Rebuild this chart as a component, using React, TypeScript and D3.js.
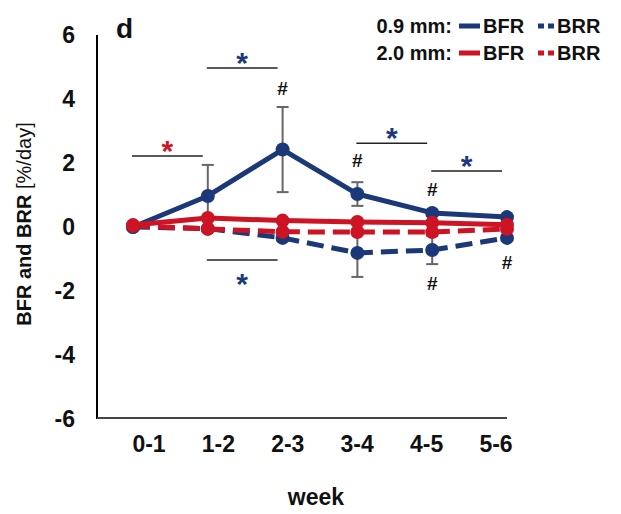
import React from "react";
import * as d3 from "d3";

const weeks = ["0-1", "1-2", "2-3", "3-4", "4-5", "5-6"];
const bfr09 = [0, 0.97, 2.42, 1.03, 0.44, 0.31];
const bfr09Err = [0, 0.97, 1.33, 0.37, 0.1, 0.05];
const brr09 = [0, -0.05, -0.34, -0.81, -0.72, -0.34];
const brr09Err = [0, 0.05, 0.1, 0.75, 0.44, 0.05];
const bfr20 = [0.06, 0.28, 0.2, 0.16, 0.13, 0.07];
const brr20 = [0.04, -0.06, -0.15, -0.16, -0.16, -0.06];
const yTicks = [-6, -4, -2, 0, 2, 4, 6];

// significance bars: between two weeks, at a value height
const sigBars = [
  { a: "0-1", b: "1-2", v: 2.22, color: "red", below: false },
  { a: "1-2", b: "2-3", v: 4.97, color: "blue", below: false },
  { a: "3-4", b: "4-5", v: 2.62, color: "blue", below: false },
  { a: "4-5", b: "5-6", v: 1.75, color: "blue", below: false },
  { a: "1-2", b: "2-3", v: -1.03, color: "blue", below: true },
];
const hashMarks = [
  { w: "2-3", v: 4.34 },
  { w: "3-4", v: 2.09 },
  { w: "4-5", v: 1.19 },
  { w: "4-5", v: -1.75 },
  { w: "5-6", v: -1.09 },
];

const BLUE = "#1b3879";
const RED = "#cc1424";
const FONT = "'Liberation Sans', Arial, sans-serif";

export default function App() {
  const x = d3.scalePoint<string>().domain(weeks).range([133, 507]);
  const xLab = d3.scalePoint<string>().domain(weeks).range([149, 496]);
  const y = d3.scaleLinear().domain([-6, 6]).range([419, 35]);
  const line = d3
    .line<number>()
    .x((_, i) => x(weeks[i]) as number)
    .y((d) => y(d));

  const series = [
    { vals: brr09, color: BLUE, dash: "17,8" },
    { vals: bfr09, color: BLUE, dash: null },
    { vals: brr20, color: RED, dash: "17,8" },
    { vals: bfr20, color: RED, dash: null },
  ];
  const errs = [
    { vals: bfr09, err: bfr09Err },
    { vals: brr09, err: brr09Err },
  ];

  const colorOf = (c: string) => (c === "red" ? RED : BLUE);

  return (
    <svg
      width={621}
      height={514}
      style={{ display: "block", position: "absolute", left: 0, top: 0, fontFamily: FONT }}
    >
      <rect width={621} height={514} fill="#fff" />
      {/* axes */}
      <line x1={97} x2={97} y1={y(6)} y2={y(-6)} stroke="#000" strokeWidth={2} />
      <line x1={97} x2={x("5-6")} y1={y(-6) - 1} y2={y(-6) - 1} stroke="#444" strokeWidth={2} />
      {yTicks.map((t) => (
        <text key={t} x={75} y={y(t)} dy="0.36em" textAnchor="end" fontSize={23} fontWeight="bold" fill="#111">
          {t}
        </text>
      ))}
      {weeks.map((w) => (
        <text key={w} x={xLab(w)} y={452} textAnchor="middle" fontSize={23} fontWeight="bold" fill="#111">
          {w}
        </text>
      ))}
      <text x={316} y={505} textAnchor="middle" fontSize={23} fontWeight="bold" fill="#111">
        week
      </text>
      <text transform="translate(31,224) rotate(-90)" textAnchor="middle" fontSize={20} fill="#111">
        <tspan fontWeight="bold">BFR and BRR </tspan>
        <tspan>[%/day]</tspan>
      </text>
      <text x={116} y={38} fontSize={28} fontWeight="bold" fill="#111">
        d
      </text>

      {/* error bars */}
      {errs.map((s, si) =>
        s.vals.map((v, i) => {
          const e = s.err[i];
          if (!e) return null;
          const cx = x(weeks[i]) as number;
          return (
            <g key={`e${si}-${i}`} stroke="#666" strokeWidth={2}>
              <line x1={cx} x2={cx} y1={y(v + e)} y2={y(v - e)} />
              <line x1={cx - 6} x2={cx + 6} y1={y(v + e)} y2={y(v + e)} />
              <line x1={cx - 6} x2={cx + 6} y1={y(v - e)} y2={y(v - e)} />
            </g>
          );
        })
      )}

      {/* series */}
      {series.map((s, si) => (
        <g key={`s${si}`}>
          <path
            d={line(s.vals) as string}
            fill="none"
            stroke={s.color}
            strokeWidth={5}
            strokeDasharray={s.dash ?? undefined}
            strokeLinejoin="round"
          />
          {s.vals.map((v, i) => (
            <circle key={i} cx={x(weeks[i])} cy={y(v)} r={7} fill={s.color} />
          ))}
        </g>
      ))}

      {/* significance */}
      {sigBars.map((b, i) => {
        const x1 = (x(b.a) as number) - 1;
        const x2 = (x(b.b) as number) - 5;
        const ly = y(b.v);
        const cy = b.below ? ly + 17 : ly - 12;
        return (
          <g key={`sig${i}`}>
            <line x1={x1} x2={x2} y1={ly} y2={ly} stroke="#222" strokeWidth={1.5} />
            <text x={(x1 + x2) / 2} y={cy + 17} textAnchor="middle" fontSize={30} fontWeight="bold" fill={colorOf(b.color)}>
              *
            </text>
          </g>
        );
      })}
      {hashMarks.map((h, i) => (
        <text key={`h${i}`} x={x(h.w)} y={y(h.v)} dy="0.35em" textAnchor="middle" fontSize={19} fontWeight="bold" fill="#111">
          #
        </text>
      ))}

      {/* legend */}
      {[
        { label: "0.9 mm:", color: BLUE, ty: 33 },
        { label: "2.0 mm:", color: RED, ty: 60 },
      ].map((r) => (
        <g key={r.label} fontSize={20} fontWeight="bold" fill="#111">
          <text x={452} y={r.ty} textAnchor="end">
            {r.label}
          </text>
          <line x1={459} x2={480} y1={r.ty - 7} y2={r.ty - 7} stroke={r.color} strokeWidth={5} />
          <text x={483} y={r.ty}>BFR</text>
          <line x1={538} x2={555} y1={r.ty - 7} y2={r.ty - 7} stroke={r.color} strokeWidth={5} strokeDasharray="6,4" />
          <text x={557} y={r.ty}>BRR</text>
        </g>
      ))}
    </svg>
  );
}
